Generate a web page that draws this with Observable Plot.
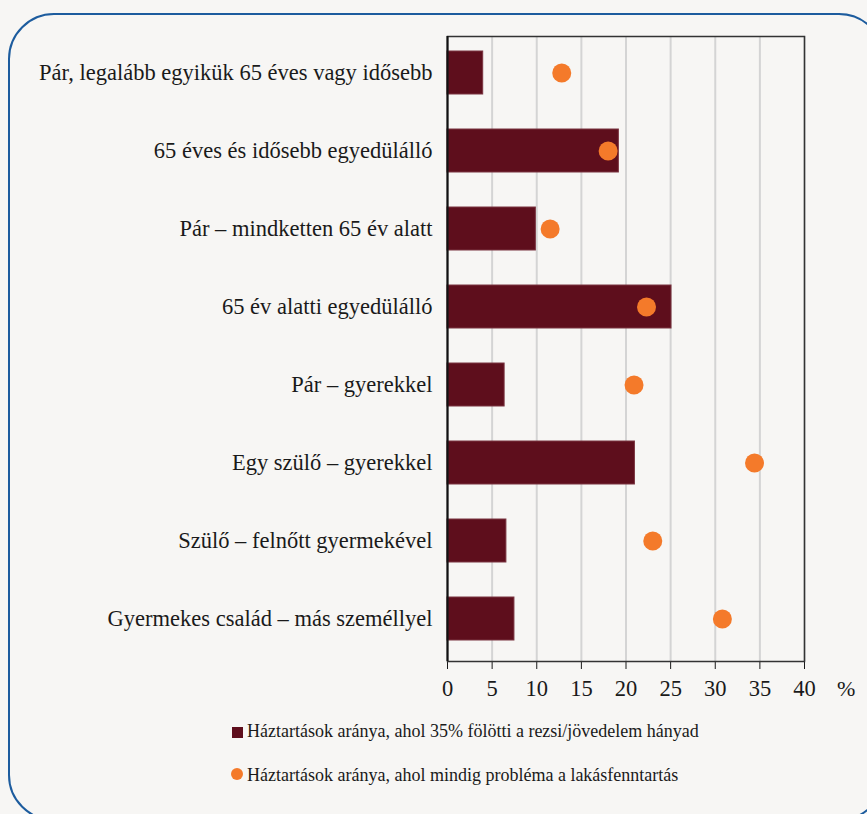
<!DOCTYPE html>
<html>
<head>
<meta charset="utf-8">
<script src="https://cdn.jsdelivr.net/npm/d3@7"></script>
<script src="https://cdn.jsdelivr.net/npm/@observablehq/plot@0.6"></script>
<style>
  html, body { margin: 0; padding: 0; background: #f7f6f4; overflow: hidden; }
  body { width: 867px; height: 814px; position: relative; font-family: 'Liberation Serif', 'Times New Roman', serif; color: #1a1a1a; }
  #frame { position: absolute; left: 8px; top: 13px; width: 877px; height: 808px; border: 2px solid #1d5c9e; border-radius: 46px; box-sizing: border-box; }
  #chart { position: absolute; left: 0; top: 0; }
  #pct { position: absolute; left: 837px; top: 678px; font-size: 22px; line-height: 22px; font-family: 'Liberation Serif', serif; }
  .lt { position: absolute; left: 247px; font-size: 18px; line-height: 18px; white-space: nowrap; font-family: 'Liberation Serif', serif; }
  .sw { position: absolute; }
</style>
</head>
<body>
<div id="frame"></div>
<div id="chart"></div>
<div id="pct">%</div>
<div class="sw" style="left:232px;top:727px;width:11px;height:11px;background:#5e0e1c"></div>
<div class="lt" style="top:722px">Háztartások aránya, ahol 35% fölötti a rezsi/jövedelem hányad</div>
<div class="sw" style="left:231px;top:768px;width:12px;height:12px;border-radius:50%;background:#f47a2a"></div>
<div class="lt" style="top:766px">Háztartások aránya, ahol mindig probléma a lakásfenntartás</div>
<script>
const categories = [
  "Pár, legalább egyikük 65 éves vagy idősebb",
  "65 éves és idősebb egyedülálló",
  "Pár – mindketten 65 év alatt",
  "65 év alatti egyedülálló",
  "Pár – gyerekkel",
  "Egy szülő – gyerekkel",
  "Szülő – felnőtt gyermekével",
  "Gyermekes család – más személlyel"
];
const costOver35 = [4.0, 19.2, 9.9, 25.1, 6.4, 21.0, 6.6, 7.5];
const alwaysProblem = [12.8, 18.0, 11.5, 22.3, 20.9, 34.4, 23.0, 30.8];
const xTicks = [0, 5, 10, 15, 20, 25, 30, 35, 40];

const data = categories.map((c, i) => ({cat: c, bar: costOver35[i], dot: alwaysProblem[i]}));

const chart = Plot.plot({
  width: 867,
  height: 700,
  marginLeft: 447,
  marginRight: 63,
  marginTop: 36,
  marginBottom: 39,
  style: {background: "transparent", fontFamily: "'Liberation Serif', 'Times New Roman', serif", fontSize: "22.5px", color: "#1a1a1a"},
  x: {domain: [0, 40], ticks: xTicks, label: null, tickSize: 8, tickPadding: 11},
  y: {domain: categories, label: null, range: [30, 661], paddingInner: 0.455, paddingOuter: 0.2275, tickSize: 0, tickPadding: 15},
  marks: [
    Plot.gridX(xTicks, {stroke: "#d4d4d4", strokeOpacity: 1, strokeWidth: 2}),
    Plot.barX(data, {y: "cat", x: "bar", fill: "#5e0e1c", stroke: "#7a3440", strokeWidth: 1}),
    Plot.dot(data, {y: "cat", x: "dot", r: 9.5, fill: "#f47a2a"}),
    Plot.frame({stroke: "#333", strokeWidth: 1.5}),
    Plot.ruleX([0], {stroke: "#111", strokeWidth: 2})
  ]
});
document.getElementById("chart").appendChild(chart);
</script>
</body>
</html>
